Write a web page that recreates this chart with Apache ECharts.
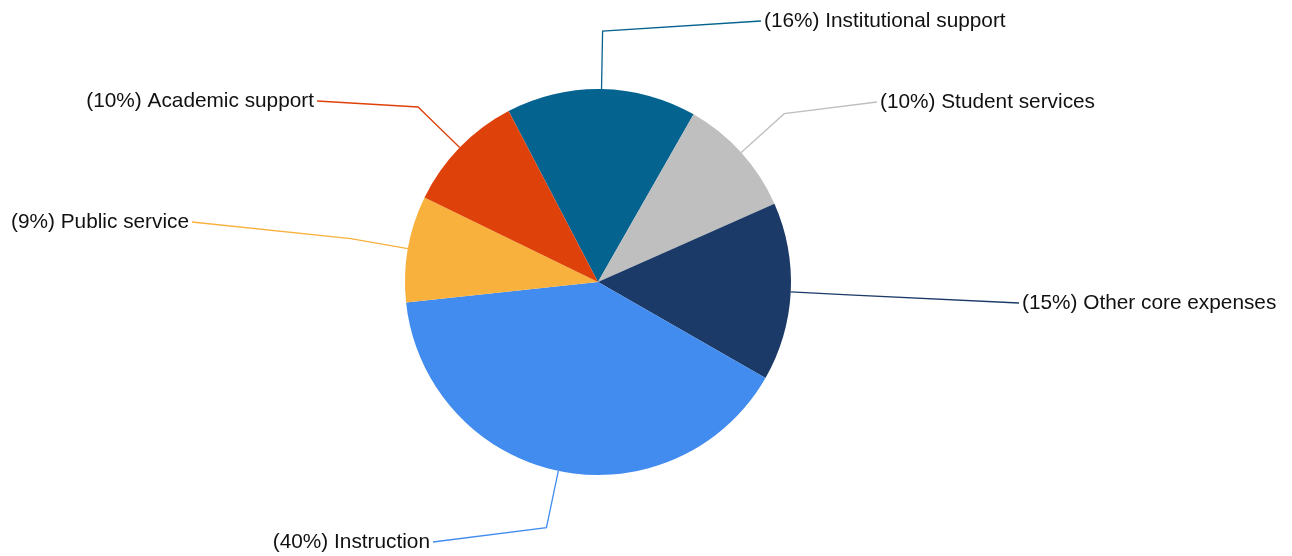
<!DOCTYPE html>
<html>
<head>
<meta charset="utf-8">
<script src="https://cdn.jsdelivr.net/npm/echarts@6/dist/echarts.min.js"></script>
<style>
  html, body { margin: 0; padding: 0; background: #fff; }
  #chart { width: 1292px; height: 556px; }
</style>
</head>
<body>
<div id="chart"></div>
<script>
// categories in clockwise order, starting from the slice at the top
const categories = ['Institutional support', 'Student services', 'Other core expenses', 'Instruction', 'Public service', 'Academic support'];
const shares = [15.9, 10.1, 14.9, 40.0, 8.9, 10.1];
const colors = ['#05638f', '#bfbfbf', '#1b3a68', '#418cee', '#f9b13e', '#de4109'];

// where each leader line ends and which side its text sits on
const labelEnds = [[761, 21], [877, 102], [1019, 303], [433, 542], [192, 222], [317, 101]];
const labelSides = ['left', 'left', 'left', 'right', 'right', 'right'];

const chart = echarts.init(document.getElementById('chart'));

const option = {
  animation: false,
  backgroundColor: '#ffffff',
  series: [{
    type: 'pie',
    center: [598, 282],
    radius: 193,
    startAngle: 117.6,
    clockwise: true,
    avoidLabelOverlap: false,
    data: categories.map((name, i) => ({
      name: name,
      value: shares[i],
      itemStyle: { color: colors[i] }
    })),
    label: {
      show: true,
      position: 'outside',
      color: '#111',
      fontFamily: 'Liberation Sans',
      fontSize: 20.8,
      formatter: p => '(' + Math.round(p.percent) + '%) ' + p.name
    },
    labelLine: {
      show: true,
      length: 58,
      length2: 10,
      lineStyle: { width: 1.3 }
    },
    labelLayout: function (params) {
      const i = params.dataIndex;
      const end = labelEnds[i];
      const side = labelSides[i];
      const pts = params.labelLinePoints;
      return {
        x: side === 'left' ? end[0] + 3 : end[0] - 3,
        y: end[1],
        align: side,
        verticalAlign: 'middle',
        labelLinePoints: [pts[0], pts[1], end]
      };
    },
    emphasis: { disabled: true }
  }]
};

chart.setOption(option);
</script>
</body>
</html>
